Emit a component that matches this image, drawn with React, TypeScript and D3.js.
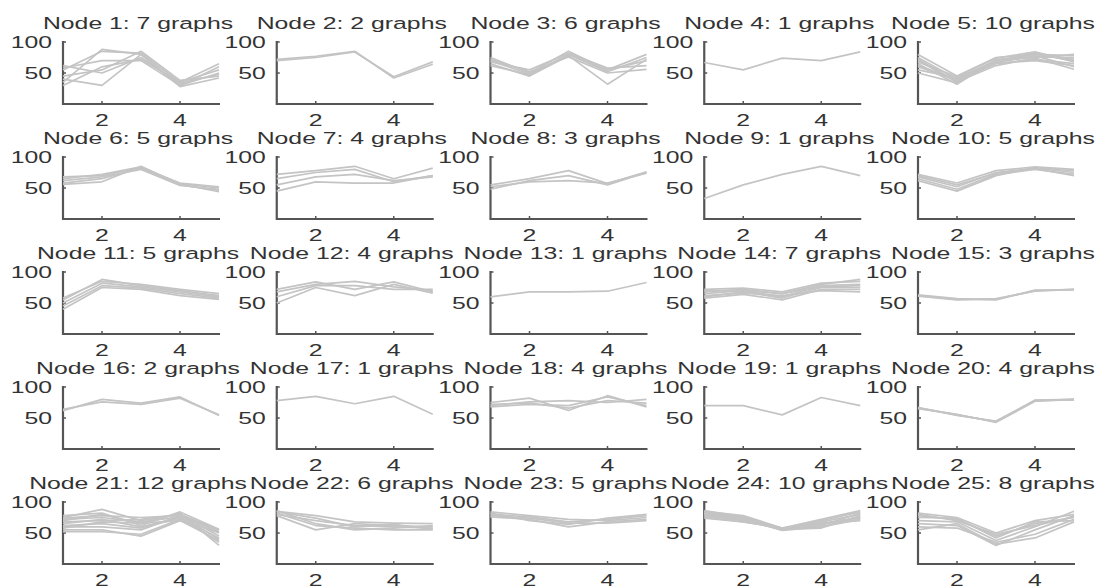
import React from "react";
import * as d3 from "d3";

const xValues = [1, 2, 3, 4, 5];
const xTicks = [2, 4];
const yTicks = [50, 100];

const node1 = [
  [35, 88, 80, 30, 60],
  [55, 85, 82, 35, 55],
  [62, 50, 75, 33, 48],
  [40, 30, 80, 28, 42],
  [30, 60, 72, 35, 65],
  [58, 70, 70, 30, 50],
  [45, 55, 85, 38, 45],
];
const node2 = [
  [70, 75, 84, 44, 68],
  [72, 77, 85, 42, 64],
];
const node3 = [
  [75, 50, 85, 55, 80],
  [70, 48, 80, 52, 75],
  [65, 45, 78, 32, 72],
  [68, 55, 82, 58, 62],
  [72, 52, 76, 50, 56],
  [62, 47, 80, 55, 70],
];
const node4 = [[67, 55, 74, 70, 84]];
const node5 = [
  [80, 45, 75, 80, 78],
  [75, 40, 70, 82, 72],
  [70, 35, 68, 78, 60],
  [65, 32, 72, 75, 80],
  [60, 38, 65, 72, 65],
  [55, 42, 70, 80, 70],
  [72, 36, 62, 74, 56],
  [50, 34, 68, 76, 75],
  [68, 44, 74, 84, 68],
  [62, 40, 66, 70, 62],
];
const node6 = [
  [65, 72, 84, 57, 50],
  [58, 65, 82, 55, 46],
  [68, 70, 83, 58, 52],
  [56, 60, 85, 56, 44],
  [62, 68, 80, 54, 48],
];
const node7 = [
  [72, 78, 85, 65, 82],
  [65, 75, 80, 60, 70],
  [55, 68, 72, 62, 68],
  [45, 60, 58, 58, 70],
];
const node8 = [
  [55, 65, 78, 57, 76],
  [48, 62, 70, 55, 75],
  [52, 60, 62, 58, 74],
];
const node9 = [[33, 55, 72, 85, 70]];
const node10 = [
  [72, 58, 78, 84, 80],
  [68, 52, 75, 82, 75],
  [65, 48, 72, 80, 72],
  [62, 45, 70, 83, 78],
  [70, 55, 74, 81, 70],
];
const node11 = [
  [55, 88, 78, 70, 62],
  [50, 82, 76, 68, 60],
  [40, 75, 72, 62, 56],
  [45, 78, 74, 65, 58],
  [58, 85, 80, 72, 65],
];
const node12 = [
  [72, 84, 72, 84, 68],
  [68, 80, 85, 76, 70],
  [50, 75, 62, 80, 66],
  [60, 78, 78, 72, 72],
];
const node13 = [[60, 68, 68, 69, 83]];
const node14 = [
  [68, 72, 65, 80, 88],
  [65, 70, 60, 78, 80],
  [60, 68, 58, 75, 75],
  [72, 74, 68, 82, 85],
  [62, 66, 62, 70, 68],
  [58, 64, 55, 72, 72],
  [70, 70, 65, 76, 78],
];
const node15 = [
  [62, 56, 56, 70, 72],
  [63, 57, 55, 71, 71],
  [61, 55, 57, 69, 72],
];
const node16 = [
  [62, 80, 74, 84, 54],
  [64, 76, 72, 82, 55],
];
const node17 = [[78, 85, 73, 85, 56]];
const node18 = [
  [75, 82, 62, 86, 68],
  [70, 76, 78, 75, 80],
  [68, 72, 70, 84, 70],
  [72, 74, 66, 78, 74],
];
const node19 = [[70, 70, 55, 83, 70]];
const node20 = [
  [66, 55, 44, 78, 80],
  [67, 54, 45, 78, 79],
  [65, 56, 43, 77, 80],
  [67, 55, 44, 79, 80],
];
const node21 = [
  [75, 88, 70, 80, 55],
  [70, 80, 65, 82, 30],
  [65, 72, 60, 75, 35],
  [55, 55, 45, 70, 52],
  [60, 60, 55, 78, 40],
  [72, 75, 68, 76, 55],
  [68, 70, 72, 80, 45],
  [52, 52, 48, 72, 50],
  [78, 82, 62, 84, 56],
  [62, 65, 58, 74, 42],
  [58, 68, 66, 70, 38],
  [74, 78, 75, 78, 52],
];
const node22 = [
  [85, 78, 68, 66, 65],
  [80, 70, 62, 60, 58],
  [82, 62, 58, 55, 55],
  [78, 55, 65, 62, 60],
  [86, 65, 55, 58, 62],
  [84, 74, 60, 64, 56],
];
const node23 = [
  [80, 76, 68, 72, 78],
  [84, 78, 72, 70, 75],
  [76, 72, 60, 68, 72],
  [82, 70, 64, 74, 80],
  [78, 74, 66, 66, 70],
];
const node24 = [
  [85, 78, 58, 72, 86],
  [82, 75, 56, 68, 80],
  [80, 72, 55, 64, 76],
  [78, 70, 57, 60, 72],
  [76, 68, 58, 66, 74],
  [84, 74, 55, 62, 82],
  [80, 70, 56, 58, 78],
  [86, 76, 57, 70, 84],
  [74, 68, 58, 65, 70],
  [82, 72, 54, 60, 75],
];
const node25 = [
  [82, 75, 50, 70, 80],
  [78, 72, 45, 65, 75],
  [70, 68, 38, 60, 85],
  [65, 62, 30, 55, 78],
  [60, 58, 35, 48, 72],
  [75, 74, 42, 68, 70],
  [55, 65, 32, 42, 68],
  [80, 70, 48, 62, 76],
];

const nodes = [
  node1, node2, node3, node4, node5,
  node6, node7, node8, node9, node10,
  node11, node12, node13, node14, node15,
  node16, node17, node18, node19, node20,
  node21, node22, node23, node24, node25,
];

const W = 1098;
const H = 588;
const COLS = 5;
const left0 = 63;
const top0 = 42;
const colStep = 213.75;
const rowStep = 115;
const pw = 156;
const ph = 62;
const FONT = "'Liberation Sans', Arial, sans-serif";
const FS = 16;
const SX = 1.55;

const xScale = d3.scaleLinear().domain([1, 5]).range([0, pw]);
const yScale = d3.scaleLinear().domain([0, 100]).range([ph, 0]);
const lineGen = d3
  .line<number>()
  .x((_, i) => xScale(xValues[i]))
  .y((d) => yScale(d));

function Label({ tx, ty, text, anchor }: { tx: number; ty: number; text: string; anchor: string }) {
  return (
    <text
      transform={`translate(${tx},${ty}) scale(${SX},1.05)`}
      textAnchor={anchor as any}
      fontFamily={FONT}
      fontSize={FS}
      fill="#333333"
    >
      {text}
    </text>
  );
}

function Panel({ data, idx }: { data: number[][]; idx: number }) {
  const c = idx % COLS;
  const r = Math.floor(idx / COLS);
  const ox = left0 + c * colStep;
  const oy = top0 + r * rowStep;
  const y0 = yScale(0);
  const yTop = yScale(100) - 1;
  const xEnd = xScale(5) + 1;
  return (
    <g transform={`translate(${ox},${oy})`}>
      <polyline
        points={`0,${yTop} 0,${y0} ${xEnd},${y0}`}
        fill="none"
        stroke="#555555"
        strokeWidth={2.2}
      />
      {xTicks.map((t) => (
        <polyline key={`xt${t}`} points={`${xScale(t)},${y0} ${xScale(t)},${y0 - 3}`} fill="none" stroke="#555555" strokeWidth={1.5} />
      ))}
      {yTicks.map((t) => (
        <polyline key={`yt${t}`} points={`0,${yScale(t)} 3,${yScale(t)}`} fill="none" stroke="#555555" strokeWidth={1.5} />
      ))}
      {data.map((d, i) => (
        <path key={i} d={lineGen(d) || ""} fill="none" stroke="#c4c4c4" strokeWidth={1.7} strokeLinejoin="round" />
      ))}
      <Label tx={pw / 2 - 3} ty={-13} text={`Node ${idx + 1}: ${data.length} graphs`} anchor="middle" />
      {xTicks.map((t) => (
        <Label key={`xl${t}`} tx={xScale(t)} ty={y0 + 22} text={String(t)} anchor="middle" />
      ))}
      {yTicks.map((t) => (
        <Label key={`yl${t}`} tx={-11} ty={yScale(t) + 6} text={String(t)} anchor="end" />
      ))}
    </g>
  );
}

export default function App() {
  return (
    <svg width={W} height={H} style={{ position: "absolute", left: 0, top: 0 }}>
      <rect x={0} y={0} width={W} height={H} fill="#ffffff" />
      {nodes.map((d, i) => (
        <Panel key={`p${i}`} data={d} idx={i} />
      ))}
    </svg>
  );
}
